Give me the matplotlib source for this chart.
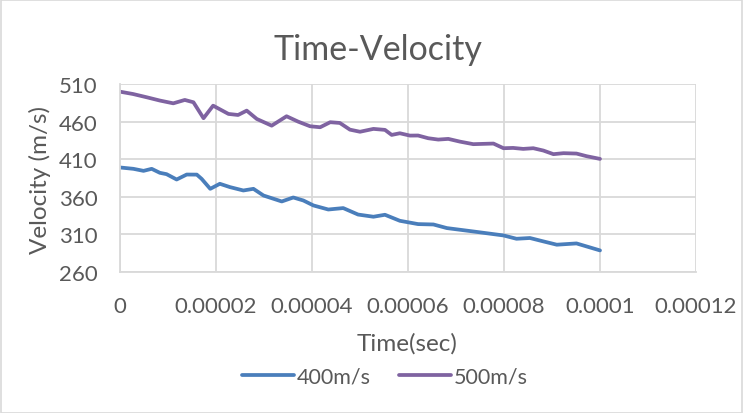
import matplotlib
matplotlib.use("Agg")
import matplotlib.pyplot as plt
from matplotlib.ticker import FixedLocator

t_400 = [0, 2.8e-6, 4.9e-6, 6.6e-6, 8.3e-6, 9.7e-6, 1.18e-5, 1.39e-5, 1.60e-5, 1.70e-5,
         1.88e-5, 2.08e-5, 2.29e-5, 2.57e-5, 2.78e-5, 2.99e-5, 3.37e-5, 3.61e-5, 3.82e-5,
         4.03e-5, 4.34e-5, 4.65e-5, 4.96e-5, 5.28e-5, 5.52e-5, 5.83e-5, 6.21e-5, 6.53e-5,
         6.81e-5, 7.36e-5, 7.99e-5, 8.26e-5, 8.54e-5, 8.82e-5, 9.10e-5, 9.51e-5, 1.0e-4]
v_400 = [399, 397.2, 394.5, 397.2, 391.9, 390.1, 383, 389.6, 389.5, 383.9,
         370.6, 377.3, 372.9, 368.4, 370.6, 361.7, 353.8, 359.1, 355.1,
         348.5, 343.1, 345, 336.4, 333.5, 336.1, 328.1, 323.7, 323.2,
         318.4, 313.9, 308.6, 304.2, 305.2, 300.7, 296.3, 298, 288.7]

t_500 = [0, 2.7e-6, 5.6e-6, 8.3e-6, 1.11e-5, 1.35e-5, 1.53e-5, 1.74e-5, 1.94e-5, 2.26e-5,
         2.46e-5, 2.64e-5, 2.85e-5, 3.16e-5, 3.47e-5, 3.71e-5, 3.96e-5, 4.17e-5, 4.38e-5,
         4.58e-5, 4.79e-5, 5.0e-5, 5.28e-5, 5.52e-5, 5.66e-5, 5.83e-5, 6.04e-5, 6.21e-5,
         6.42e-5, 6.63e-5, 6.84e-5, 7.08e-5, 7.36e-5, 7.78e-5, 7.99e-5, 8.19e-5, 8.40e-5,
         8.61e-5, 8.82e-5, 9.03e-5, 9.24e-5, 9.51e-5, 9.72e-5, 1.0e-4]
v_500 = [499.8, 496.7, 492.3, 488, 484.3, 488.8, 485.7, 464.5, 481.2, 470.2,
         468.8, 474.6, 463.5, 454.6, 467.1, 460, 453.8, 452.5, 459.2,
         458.2, 449.3, 446.5, 450.3, 449, 442.3, 444.5, 441.4, 441.5,
         437.9, 436.1, 437, 433.4, 430, 430.8, 424.6, 425, 423.7,
         424.6, 421.5, 416.7, 418, 417.5, 414, 410.4]

x_ticks = [0, 0.00002, 0.00004, 0.00006, 0.00008, 0.0001, 0.00012]
x_tick_labels = ["0", "0.00002", "0.00004", "0.00006", "0.00008", "0.0001", "0.00012"]
y_ticks = [260, 310, 360, 410, 460, 510]

W, H = 743, 414
plt.rcParams['font.family'] = ['Lato', 'DejaVu Sans']
txt = '#595959'
grid = '#d9d9d9'

fig = plt.figure(figsize=(W / 100, H / 100), dpi=100)
ax = fig.add_axes([120 / W, 1 - 273 / H, (696 - 120) / W, (273 - 85) / H])

ax.plot(t_400, v_400, color='#4a7ebb', lw=2.7, label='400m/s', solid_capstyle='round', solid_joinstyle='round')
ax.plot(t_500, v_500, color='#7f63a1', lw=2.7, label='500m/s', solid_capstyle='round', solid_joinstyle='round')

ax.set_xlim(0, 0.00012)
ax.set_ylim(260, 510)
ax.xaxis.set_major_locator(FixedLocator(x_ticks))
ax.set_xticklabels(x_tick_labels)
ax.yaxis.set_major_locator(FixedLocator(y_ticks))
ax.grid(True, color=grid, lw=1.3)
ax.set_axisbelow(True)
for s in ['top', 'right']:
    ax.spines[s].set_visible(False)
for s in ['left', 'bottom']:
    ax.spines[s].set_color(grid)
    ax.spines[s].set_linewidth(1.3)
ax.tick_params(length=0, labelsize=16, colors=txt)
ax.tick_params(axis='x', pad=17)
ax.tick_params(axis='y', pad=16)

fig.text(407 / W, 1 - 344 / H, 'Time(sec)', fontsize=17.5, color=txt, ha='center', va='center')
fig.text(40 / W, 1 - 180 / H, 'Velocity (m/s)', fontsize=17.5, color=txt, ha='center', va='center',
         rotation=90)
fig.text(378 / W, 1 - 50 / H, 'Time-Velocity', fontsize=24.5, color=txt, ha='center', va='center')

fig.legend(loc='center', bbox_to_anchor=(385 / W, 1 - 378 / H), ncol=2, frameon=False,
           fontsize=15.5, labelcolor=txt, handlelength=2.4, handletextpad=0.15, columnspacing=1.3)

fig.patches.append(plt.Rectangle((0.5 / W, 0.5 / H), 1 - 1.5 / W, 1 - 1.5 / H, transform=fig.transFigure,
                                 fill=False, edgecolor=grid, lw=1.2))

fig.savefig('out.png', dpi=100)
